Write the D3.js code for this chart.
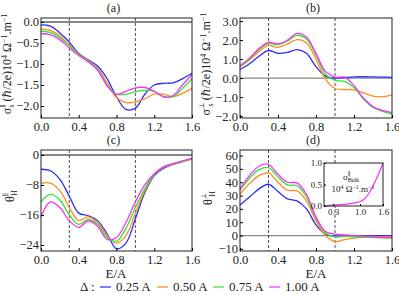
<!DOCTYPE html>
<html>
<head>
<meta charset="utf-8">
<script src="https://cdn.jsdelivr.net/npm/d3@7"></script>
<style>
  body { margin: 0; background: #fff; }
  svg text { font-family: "Liberation Serif", "DejaVu Serif", serif; fill: #222; }
</style>
</head>
<body>
<svg id="chart" width="399" height="295"></svg>
<script>
// energies
var E = [0, 0.1, 0.2, 0.3, 0.4, 0.5, 0.6, 0.7, 0.8, 0.9, 1.0, 1.1, 1.2, 1.3, 1.4, 1.5, 1.6];
var deltas = ["0.25 A", "0.50 A", "0.75 A", "1.00 A"];
var colors = ["#2b2bff", "#ff8c1f", "#2fe82f", "#ff2eff"];

// (a) sigma_s parallel
var a025 = [-0.07, -0.1, -0.26, -0.48, -0.75, -0.9, -1.05, -1.35, -1.78, -2.08, -2.05, -1.72, -1.5, -1.46, -1.45, -1.35, -1.22];
var a050 = [-0.17, -0.2, -0.33, -0.55, -0.77, -0.92, -1.1, -1.45, -1.8, -1.92, -1.9, -1.83, -1.72, -1.72, -1.78, -1.7, -1.58];
var a075 = [-0.22, -0.25, -0.37, -0.57, -0.78, -0.93, -1.12, -1.5, -1.72, -1.72, -1.66, -1.63, -1.65, -1.78, -1.78, -1.58, -1.35];
var a100 = [-0.28, -0.3, -0.42, -0.62, -0.8, -0.95, -1.15, -1.52, -1.72, -1.65, -1.57, -1.56, -1.65, -1.78, -1.75, -1.5, -1.25];

// (b) sigma_s perpendicular
var b025 = [0.45, 0.75, 1.15, 1.45, 1.3, 1.35, 1.5, 1.3, 0.6, 0.1, 0.0, 0.03, 0.06, 0.07, 0.06, 0.05, 0.04];
var b050 = [0.6, 0.95, 1.4, 1.72, 1.62, 1.8, 2.02, 1.85, 1.0, -0.05, -0.55, -0.6, -0.62, -0.78, -0.95, -0.98, -0.88];
var b075 = [0.62, 1.0, 1.5, 1.82, 1.75, 1.95, 2.25, 2.05, 1.2, 0.2, -0.12, -0.17, -0.5, -1.1, -1.55, -1.75, -1.9];
var b100 = [0.65, 1.05, 1.55, 1.88, 1.8, 2.0, 2.35, 2.15, 1.3, 0.35, 0.05, 0.05, -0.4, -1.05, -1.5, -1.7, -1.82];

// (c) theta_H parallel
var c025 = [-3.8, -4.2, -6.5, -11, -15.5, -16.2, -17.5, -21, -25, -23.5, -17, -10, -5.5, -3.5, -2.5, -1.8, -1.0];
var c050 = [-7.6, -7.5, -9.5, -14, -17.5, -16.5, -18, -21.5, -23.5, -21.5, -15.5, -9.5, -5.2, -3.3, -2.5, -1.8, -1.1];
var c075 = [-12.5, -10.5, -12, -16, -18.5, -17.2, -18.5, -22, -23, -19.5, -14, -9, -5.2, -3.2, -2.4, -1.7, -1.0];
var c100 = [-16.5, -12.5, -14, -17.5, -19.3, -17.6, -19, -22.5, -22, -18, -12.5, -8, -5, -3.1, -2.3, -1.6, -0.9];

// (d) theta_H perpendicular
var d025 = [23, 29, 35, 38.5, 33, 27.5, 26, 20, 8, 1, -0.5, -0.5, -0.3, -0.2, -0.2, -0.1, -0.1];
var d050 = [31, 39, 45, 47, 40, 34, 33.5, 26, 11, 0, -4.5, -3, -2, -1.3, -1, -1, -0.8];
var d075 = [34, 43, 49.5, 51, 44, 38, 37.5, 29, 13, 2, -1, -0.5, -1, -1.2, -1.5, -1.8, -2];
var d100 = [35, 45, 52, 53.5, 46, 40, 39.5, 31, 14, 3, 1, 0.5, 0, -0.5, -1, -1.3, -1.5];

// inset: bulk sigma
var insetE = [0.06, 0.3, 0.5, 0.7, 0.9, 1.0, 1.1, 1.2, 1.3, 1.4, 1.5, 1.6];
var insetS = [0.0, 0.02, 0.03, 0.05, 0.08, 0.1, 0.15, 0.25, 0.4, 0.58, 0.78, 1.0];

var xTicks = [0, 0.4, 0.8, 1.2, 1.6];

var FONT = "Liberation Serif";
var svg = d3.select("#chart");
var minus = function(s) { return s.replace("-", "\u2212"); };

function panel(opt) {
  var x = d3.scaleLinear().domain([0, 1.6]).range([opt.x0, opt.x1]);
  var y = d3.scaleLinear().domain(opt.ydom).range([opt.y1, opt.y0]);
  var g = svg.append("g");

  // zero line
  g.append("line")
    .attr("x1", opt.x0).attr("x2", opt.x1)
    .attr("y1", y(0)).attr("y2", y(0))
    .attr("stroke", opt.zeroColor).attr("stroke-width", 1.2);

  // dashed markers
  [0.3, 1.0].forEach(function(v) {
    g.append("line")
      .attr("x1", x(v)).attr("x2", x(v))
      .attr("y1", opt.y0).attr("y2", opt.y1)
      .attr("stroke", "#222").attr("stroke-width", 0.8)
      .attr("stroke-dasharray", "3,2");
  });

  var line = d3.line()
    .x(function(d, i) { return x(E[i]); })
    .y(function(d) { return y(d); })
    .curve(d3.curveCatmullRom.alpha(0.5));

  opt.series.forEach(function(s, k) {
    g.append("path")
      .datum(s)
      .attr("fill", "none")
      .attr("stroke", colors[k])
      .attr("stroke-width", 1.3)
      .attr("d", line);
  });

  // frame
  g.append("rect")
    .attr("x", opt.x0).attr("y", opt.y0)
    .attr("width", opt.x1 - opt.x0).attr("height", opt.y1 - opt.y0)
    .attr("fill", "none").attr("stroke", "#222").attr("stroke-width", 1);

  g.append("g")
    .attr("transform", "translate(0," + opt.y1 + ")")
    .call(d3.axisBottom(x).tickValues(xTicks).tickSizeInner(-3).tickSizeOuter(0).tickPadding(4)
      .tickFormat(d3.format(".1f")))
    .call(function(a) {
      a.select(".domain").remove();
      a.selectAll("text").style("font-size", "12.5px").style("font-family", FONT);
    });

  g.append("g")
    .attr("transform", "translate(" + opt.x0 + ",0)")
    .call(d3.axisLeft(y).tickValues(opt.yticks).tickSizeInner(-3).tickSizeOuter(0).tickPadding(2)
      .tickFormat(function(d) { return minus(d3.format(opt.yfmt)(d)); }))
    .call(function(a) {
      a.select(".domain").remove();
      a.selectAll("text").style("font-size", "12.5px").style("font-family", FONT);
    });

  svg.append("text")
    .attr("x", (opt.x0 + opt.x1) / 2 - 3).attr("y", opt.y0 - 6)
    .attr("text-anchor", "middle").style("font-size", "12px")
    .text(opt.title);

  return {x: x, y: y};
}

panel({x0: 41, x1: 192, y0: 18, y1: 118, ydom: [-2.286, 0.095],
  yticks: [0, -0.5, -1, -1.5, -2], yfmt: ".1f", zeroColor: "#111",
  series: [a025, a050, a075, a100], title: "(a)"});
panel({x0: 240, x1: 392, y0: 18, y1: 118, ydom: [-2.1, 3.16],
  yticks: [3, 2, 1, 0, -1, -2], yfmt: ".1f", zeroColor: "#888",
  series: [b025, b050, b075, b100], title: "(b)"});
panel({x0: 41, x1: 192, y0: 150, y1: 251, ydom: [-25.6, 1.33],
  yticks: [0, -8, -16, -24], yfmt: "d", zeroColor: "#111",
  series: [c025, c050, c075, c100], title: "(c)"});
panel({x0: 240, x1: 392, y0: 150, y1: 251, ydom: [-11.6, 64.2],
  yticks: [60, 50, 40, 30, 20, 10, 0, -10], yfmt: "d", zeroColor: "#888",
  series: [d025, d050, d075, d100], title: "(d)"});

// rotated y labels; each part: [text, dx, dy, size]
function ylab(x, y, parts) {
  var t = svg.append("text")
    .attr("transform", "translate(" + x + "," + y + ") rotate(-90)")
    .attr("text-anchor", "middle").style("font-size", "12px");
  parts.forEach(function(p) {
    var ts = t.append("tspan").text(p[0]);
    if (p[1]) ts.attr("dx", p[1]);
    if (p[2]) ts.attr("dy", p[2]);
    if (p[3]) ts.style("font-size", p[3] + "px");
  });
}
var unitParts = [[" (\u210f/2e)10", 0, -3], ["4", 0, -4, 8], [" \u03a9", 0, 4], ["\u22121", 0, -4, 8], [".m", 0, 4], ["\u22121", 0, -4, 8]];
ylab(11, 64, [["\u03c3"], ["\u2225", 0, -6, 7], ["s", -3, 9, 8]].concat(unitParts));
ylab(210, 64, [["\u03c3"], ["\u22a5", 0, -6, 7], ["s", -4, 9, 8]].concat(unitParts));
ylab(14, 196, [["\u03b8"], ["\u2225", 0, -6, 7], ["H", -3, 9, 8]]);
ylab(212, 198, [["\u03b8"], ["\u22a5", 0, -6, 7], ["H", -4, 9, 8]]);

// x labels
[116, 316].forEach(function(cx) {
  svg.append("text").attr("x", cx).attr("y", 278)
    .attr("text-anchor", "middle").style("font-size", "13px").text("E/A");
});

// inset
var ix = d3.scaleLinear().domain([0.06, 1.6]).range([324, 383]);
var iy = d3.scaleLinear().domain([0, 1]).range([206, 163]);
var ig = svg.append("g");
ig.append("rect").attr("x", 324).attr("y", 163).attr("width", 59).attr("height", 43)
  .attr("fill", "#fff");
ig.append("path")
  .datum(insetS)
  .attr("fill", "none").attr("stroke", colors[3]).attr("stroke-width", 1.2)
  .attr("d", d3.line().x(function(d, i) { return ix(insetE[i]); }).y(function(d) { return iy(d); })
    .curve(d3.curveMonotoneX));
ig.append("rect").attr("x", 324).attr("y", 163).attr("width", 59).attr("height", 43)
  .attr("fill", "none").attr("stroke", "#222").attr("stroke-width", 1);
ig.append("g").attr("transform", "translate(324,0)")
  .call(d3.axisLeft(iy).tickValues([0, 0.5, 1]).tickSizeInner(-2).tickSizeOuter(0).tickPadding(2)
    .tickFormat(d3.format(".1f")))
  .call(function(a) { a.select(".domain").remove(); a.selectAll("text").style("font-size", "9px").style("font-family", FONT); });
ig.append("g").attr("transform", "translate(0,206)")
  .call(d3.axisBottom(ix).tickValues([0.3, 1.0, 1.6]).tickSizeInner(-2).tickSizeOuter(0).tickPadding(3)
    .tickFormat(d3.format(".1f")))
  .call(function(a) { a.select(".domain").remove(); a.selectAll("text").style("font-size", "9px").style("font-family", FONT); });
var it = ig.append("text").attr("x", 343).attr("y", 180).style("font-size", "9px");
it.append("tspan").text("\u03c3");
it.append("tspan").attr("dy", -4).style("font-size", "6px").text("\u2225");
it.append("tspan").attr("dx", -3).attr("dy", 6).style("font-size", "6px").text("Bulk");
var it2 = ig.append("text").attr("x", 353).attr("y", 192).attr("text-anchor", "middle").style("font-size", "9px");
it2.append("tspan").text("10");
it2.append("tspan").attr("dy", -3).style("font-size", "6px").text("4");
it2.append("tspan").attr("dy", 3).text(" \u03a9");
it2.append("tspan").attr("dy", -3).style("font-size", "6px").text("\u22121");
it2.append("tspan").attr("dy", 3).text(".m");
it2.append("tspan").attr("dy", -3).style("font-size", "6px").text("\u22121");

// legend
var lg = svg.append("g");
lg.append("text").attr("x", 80).attr("y", 291).style("font-size", "13px").text("\u0394 :");
var lx = [100, 157, 213, 269];
deltas.forEach(function(d, k) {
  lg.append("line").attr("x1", lx[k]).attr("x2", lx[k] + 11).attr("y1", 287).attr("y2", 287)
    .attr("stroke", colors[k]).attr("stroke-width", 1.5).attr("opacity", 0.8);
  lg.append("text").attr("x", lx[k] + 16).attr("y", 291).style("font-size", "13px").text(d);
});
</script>
</body>
</html>
